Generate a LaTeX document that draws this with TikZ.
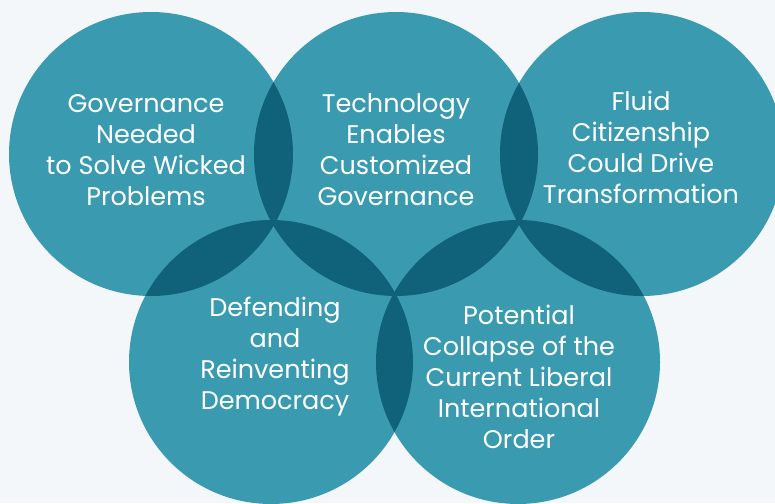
\documentclass[tikz,border=0pt]{standalone}
\usepackage{fontspec}
\setmainfont{Poppins}
\definecolor{bubble}{HTML}{3A9BB0}
\definecolor{overlap}{HTML}{0F627A}
\definecolor{paper}{HTML}{F3F7FA}
\begin{document}
\begin{tikzpicture}[
        x=1pt, y=-1pt,
        bubble/.style={fill=bubble},
        lens/.style={fill=overlap},
        topic/.style={text=white, align=center, inner sep=0pt,
            font=\fontsize{25.5}{31}\selectfont}
    ]

        % Background
        \fill[paper] (0,0) rectangle (775,503);
        \useasboundingbox (0,0) rectangle (775,503);
        \clip (0,0) rectangle (775,503);

        % Circle centres
        \coordinate (c1) at (151,154);
        \coordinate (c2) at (396,154);
        \coordinate (c3) at (642,154);
        \coordinate (c4) at (271,362);
        \coordinate (c5) at (518,362);

        % Circles
        \foreach \c in {c1,c2,c3,c4,c5}
            \fill[bubble] (\c) circle[radius=142pt];

        % Overlaps
        \foreach \a/\b in {c1/c2, c2/c3, c1/c4, c2/c4, c2/c5, c3/c5, c4/c5} {
            \begin{scope}
                \clip (\a) circle[radius=142pt];
                \fill[lens] (\b) circle[radius=142pt];
            \end{scope}
        }

        % Labels
        \node[topic] (t1) at (146,150) {Governance\\Needed\\to Solve Wicked\\Problems};
        \node[topic] (t2) at (396,150) {Technology\\Enables\\Customized\\Governance};
        \node[topic] (t3) at (641,147) {Fluid\\Citizenship\\Could Drive\\Transformation};
        \node[topic] (t4) at (275,357) {Defending\\and\\Reinventing\\Democracy};
        \node[topic] (t5) at (519,377) {Potential\\Collapse of the\\Current Liberal\\International\\Order};

    \end{tikzpicture}
\end{document}
